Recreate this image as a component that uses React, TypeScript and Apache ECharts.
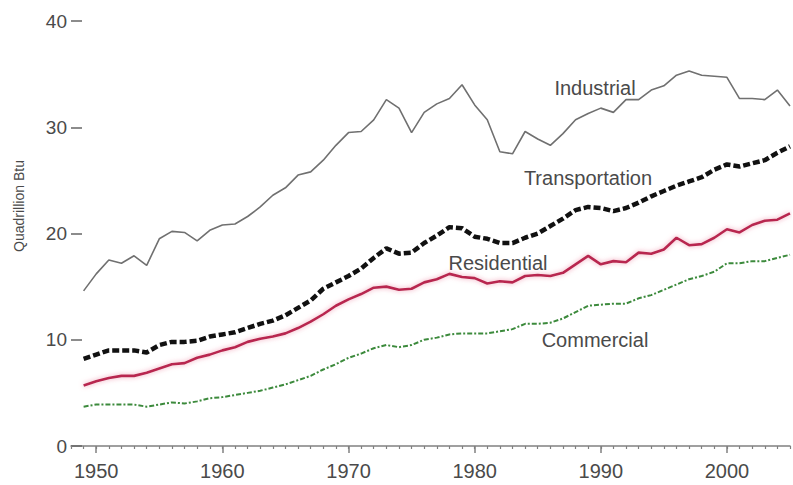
import React, { useEffect, useRef } from "react";
import * as echarts from "echarts";

const years: number[] = [];
for (let y = 1949; y <= 2005; y++) years.push(y);

const industrial = [
  14.6, 16.2, 17.5, 17.2, 17.9, 17.0, 19.5, 20.2, 20.1, 19.3, 20.3, 20.8, 20.9, 21.6, 22.5, 23.6, 24.3, 25.5, 25.8,
  26.9, 28.3, 29.5, 29.6, 30.7, 32.6, 31.8, 29.5, 31.4, 32.2, 32.7, 34.0, 32.1, 30.7, 27.7, 27.5, 29.6, 28.9, 28.3,
  29.4, 30.7, 31.3, 31.8, 31.4, 32.6, 32.6, 33.5, 33.9, 34.9, 35.3, 34.9, 34.8, 34.7, 32.7, 32.7, 32.6, 33.5, 32.0,
];
const transportation = [
  8.2, 8.6, 9.0, 9.0, 9.0, 8.8, 9.5, 9.8, 9.8, 9.9, 10.3, 10.5, 10.7, 11.1, 11.5, 11.8, 12.3, 13.0, 13.7, 14.8, 15.4,
  16.0, 16.7, 17.7, 18.6, 18.1, 18.2, 19.1, 19.8, 20.6, 20.5, 19.7, 19.5, 19.1, 19.1, 19.6, 20.0, 20.7, 21.4, 22.2,
  22.5, 22.4, 22.1, 22.4, 22.9, 23.5, 24.0, 24.5, 24.9, 25.3, 26.0, 26.5, 26.3, 26.6, 26.9, 27.6, 28.2,
];
const residential = [
  5.7, 6.1, 6.4, 6.6, 6.6, 6.9, 7.3, 7.7, 7.8, 8.3, 8.6, 9.0, 9.3, 9.8, 10.1, 10.3, 10.6, 11.1, 11.7, 12.4, 13.2,
  13.8, 14.3, 14.9, 15.0, 14.7, 14.8, 15.4, 15.7, 16.2, 15.9, 15.8, 15.3, 15.5, 15.4, 16.0, 16.1, 16.0, 16.3, 17.1,
  17.9, 17.1, 17.4, 17.3, 18.2, 18.1, 18.5, 19.6, 18.9, 19.0, 19.6, 20.4, 20.1, 20.8, 21.2, 21.3, 21.9,
];
const commercial = [
  3.7, 3.9, 3.9, 3.9, 3.9, 3.7, 3.9, 4.1, 4.0, 4.2, 4.5, 4.6, 4.8, 5.0, 5.2, 5.5, 5.8, 6.2, 6.6, 7.2, 7.7, 8.3, 8.7,
  9.2, 9.5, 9.3, 9.5, 10.0, 10.2, 10.5, 10.6, 10.6, 10.6, 10.8, 11.0, 11.5, 11.5, 11.6, 12.0, 12.6, 13.2, 13.3, 13.4,
  13.4, 13.9, 14.2, 14.7, 15.2, 15.7, 16.0, 16.4, 17.2, 17.2, 17.4, 17.4, 17.7, 18.0,
];

const decadeTicks = [1950, 1960, 1970, 1980, 1990, 2000];
const yTicks = [0, 10, 20, 30, 40];
const seriesNames = ["Industrial", "Transportation", "Residential", "Commercial"];

const pair = (vals: number[]) => years.map((y, i) => [y, vals[i]]);

export default function App() {
  const ref = useRef<HTMLDivElement>(null);
  useEffect(() => {
    if (!ref.current) return;
    const chart = echarts.init(ref.current, null, { renderer: "svg" });
    const font = "Liberation Sans, Arial, sans-serif";
    const labelColor = "#4a4a4a";
    chart.setOption({
      animation: false,
      backgroundColor: "#ffffff",
      grid: { left: 71, right: 3, top: 21, bottom: 39, containLabel: false },
      xAxis: [
        {
          type: "value",
          min: 1948,
          max: 2005,
          interval: 1,
          axisLine: { show: true, lineStyle: { color: "#808080", width: 1.5 } },
          axisTick: { show: true, length: 3, lineStyle: { color: "#808080", width: 1.2 } },
          axisLabel: { show: false },
          splitLine: { show: false },
        },
        {
          type: "value",
          min: 1948,
          max: 2005,
          position: "bottom",
          axisLine: { show: false },
          axisTick: {
            show: true,
            length: 7,
            customValues: decadeTicks,
            lineStyle: { color: "#808080", width: 1.5 },
          },
          axisLabel: {
            show: true,
            customValues: decadeTicks,
            margin: 15,
            fontSize: 20,
            fontFamily: font,
            color: labelColor,
            formatter: (v: number) => String(v),
          },
          splitLine: { show: false },
        },
      ],
      yAxis: {
        type: "value",
        min: 0,
        max: 40,
        interval: 10,
        axisLine: { show: false },
        axisTick: { show: true, inside: true, length: 11, lineStyle: { color: "#666", width: 1.5 } },
        axisLabel: {
          margin: 4,
          fontSize: 19,
          fontFamily: font,
          color: labelColor,
          formatter: (v: number) => (yTicks.includes(v) ? String(v) : ""),
        },
        splitLine: { show: false },
      },
      graphic: [
        {
          type: "text",
          x: 19,
          y: 206,
          rotation: Math.PI / 2,
          style: {
            text: "Quadrillion Btu",
            fontSize: 14,
            fontFamily: font,
            fill: labelColor,
            align: "center",
            verticalAlign: "middle",
          },
        },
        {
          type: "text",
          x: 595,
          y: 88,
          style: { text: seriesNames[0], fontSize: 20, fontFamily: font, fill: labelColor, align: "center", verticalAlign: "middle" },
        },
        {
          type: "text",
          x: 588,
          y: 178,
          style: { text: seriesNames[1], fontSize: 20, fontFamily: font, fill: labelColor, align: "center", verticalAlign: "middle" },
        },
        {
          type: "text",
          x: 498,
          y: 263,
          style: { text: seriesNames[2], fontSize: 20, fontFamily: font, fill: labelColor, align: "center", verticalAlign: "middle" },
        },
        {
          type: "text",
          x: 595,
          y: 340,
          style: { text: seriesNames[3], fontSize: 20, fontFamily: font, fill: labelColor, align: "center", verticalAlign: "middle" },
        },
      ],
      series: [
        {
          name: seriesNames[3],
          type: "line",
          data: pair(commercial),
          showSymbol: false,
          lineStyle: { color: "#3c8a3c", width: 2, type: [5, 2, 2, 2] },
          z: 2,
        },
        {
          name: seriesNames[2],
          type: "line",
          data: pair(residential),
          showSymbol: false,
          lineStyle: {
            color: "#b8254f",
            width: 2.6,
            shadowBlur: 5,
            shadowColor: "rgba(235,120,150,0.7)",
          },
          z: 3,
        },
        {
          name: seriesNames[1],
          type: "line",
          data: pair(transportation),
          showSymbol: false,
          lineStyle: { color: "#111111", width: 4.5, type: [7, 3] },
          z: 4,
        },
        {
          name: seriesNames[0],
          type: "line",
          data: pair(industrial),
          showSymbol: false,
          lineStyle: { color: "#707070", width: 1.6 },
          z: 5,
        },
      ],
    });
    return () => chart.dispose();
  }, []);
  return <div ref={ref} style={{ width: 793, height: 485, position: "absolute", left: 0, top: 0 }} />;
}
